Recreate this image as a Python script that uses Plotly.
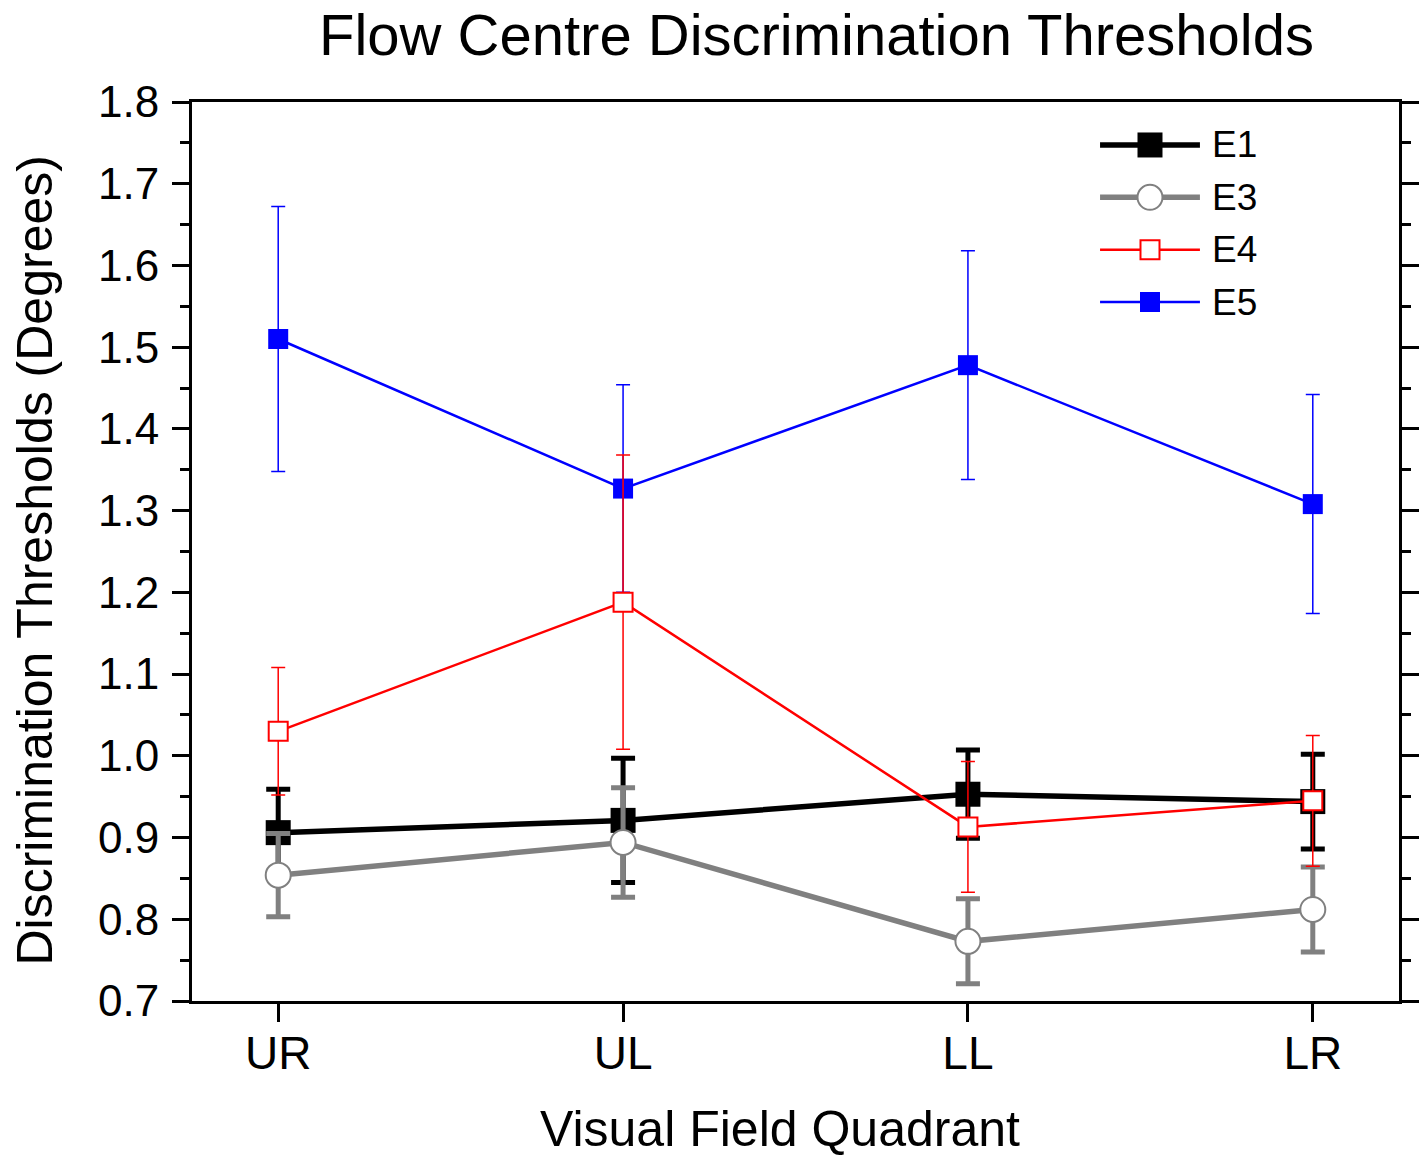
import plotly.graph_objects as go

quadrants = ["UR", "UL", "LL", "LR"]

e1 = [0.906, 0.921, 0.953, 0.944]
e1_err = [0.053, 0.076, 0.054, 0.058]
e3 = [0.854, 0.894, 0.773, 0.812]
e3_err = [0.051, 0.067, 0.052, 0.052]
e4 = [1.030, 1.188, 0.913, 0.945]
e4_err = [0.078, 0.180, 0.080, 0.080]
e5 = [1.510, 1.327, 1.478, 1.308]
e5_err = [0.162, 0.127, 0.140, 0.134]

series_names = ["E1", "E3", "E4", "E5"]

FONT = "Arial, Liberation Sans, sans-serif"

styles = {
    "E1": dict(line=dict(color="black", width=5.5),
               marker=dict(symbol="square", size=25, color="black"),
               err=dict(color="black", thickness=5, width=12)),
    "E3": dict(line=dict(color="#808080", width=5.5),
               marker=dict(symbol="circle", size=25, color="white", line=dict(color="#808080", width=2)),
               err=dict(color="#808080", thickness=5, width=12)),
    "E4": dict(line=dict(color="#ff0000", width=2.5),
               marker=dict(symbol="square", size=19, color="white", line=dict(color="#ff0000", width=2)),
               err=dict(color="#ff0000", thickness=1.5, width=7)),
    "E5": dict(line=dict(color="#0000ff", width=2.5),
               marker=dict(symbol="square", size=20, color="#0000ff"),
               err=dict(color="#0000ff", thickness=1.5, width=7)),
}
data = {"E1": (e1, e1_err), "E3": (e3, e3_err), "E4": (e4, e4_err), "E5": (e5, e5_err)}

fig = go.Figure()

# drawing order: E1, E3, E5, E4 (red drawn on top)
for name in ["E1", "E3", "E5", "E4"]:
    vals, errs = data[name]
    st = styles[name]
    fig.add_trace(go.Scatter(
        x=quadrants, y=vals, name=name, mode="lines+markers", showlegend=False,
        line=st["line"], marker=st["marker"],
        error_y=dict(type="data", array=errs, **st["err"]),
    ))

# custom legend drawn on an overlay axis (long sample lines like the original)
LEG_TOP, LEG_BOT = 0.9522, 0.7775
ROW = (LEG_TOP - LEG_BOT) / 3
for i, name in enumerate(series_names):
    st = styles[name]
    fig.add_trace(go.Scatter(
        x=[0, 1], y=[i, i], mode="lines", line=st["line"], showlegend=False,
        xaxis="x2", yaxis="y2", hoverinfo="skip", cliponaxis=False,
    ))
    fig.add_trace(go.Scatter(
        x=[0.5], y=[i], mode="markers", marker=st["marker"], showlegend=False,
        xaxis="x2", yaxis="y2", hoverinfo="skip", cliponaxis=False,
    ))

legend_annotations = [
    dict(text=name, xref="paper", yref="paper", x=0.843,
         y=LEG_TOP - i * ROW, xanchor="left", yanchor="middle",
         showarrow=False, font=dict(size=37, family=FONT))
    for i, name in enumerate(series_names)
]

fig.update_layout(
    width=1422, height=1156,
    margin=dict(l=192, r=23, t=102, b=155, autoexpand=False),
    paper_bgcolor="white", plot_bgcolor="white",
    font=dict(family=FONT, color="black"),
    showlegend=False,
    xaxis=dict(
        range=[-0.25, 3.25], showgrid=False, zeroline=False,
        showline=True, linecolor="black", linewidth=3, mirror=True,
        ticks="outside", ticklen=18, tickwidth=3, tickcolor="black",
        tickfont=dict(size=46, family=FONT), ticklabelstandoff=-8,
    ),
    yaxis=dict(
        range=[0.7, 1.8], dtick=0.1, tickformat=".1f", showgrid=False, zeroline=False,
        showline=True, linecolor="black", linewidth=3, mirror="ticks",
        ticks="outside", ticklen=17, tickwidth=3, tickcolor="black",
        tickfont=dict(size=44, family=FONT), ticklabelstandoff=4,
        minor=dict(dtick=0.05, ticks="outside", ticklen=9, tickwidth=3, tickcolor="black", showgrid=False),
    ),
    xaxis2=dict(domain=[0.7523, 0.8351], range=[0, 1], visible=False, anchor="y2", fixedrange=True),
    yaxis2=dict(domain=[LEG_BOT - 0.5 * ROW, LEG_TOP + 0.5 * ROW], range=[3.5, -0.5],
                visible=False, anchor="x2", fixedrange=True),
    annotations=[
        dict(text="Flow Centre Discrimination Thresholds", xref="paper", yref="paper",
             x=0.517, y=1.075, xanchor="center", yanchor="middle", showarrow=False,
             font=dict(size=58, family=FONT)),
        dict(text="Visual Field Quadrant", xref="paper", yref="paper",
             x=0.487, y=-0.142, xanchor="center", yanchor="middle", showarrow=False,
             font=dict(size=50, family=FONT)),
        dict(text="Discrimination Thresholds (Degrees)", xref="paper", yref="paper",
             x=-0.130, y=0.49, xanchor="center", yanchor="middle", showarrow=False,
             textangle=-90, font=dict(size=50, family=FONT)),
    ] + legend_annotations,
)

fig.write_html("out.html", config={"displayModeBar": False},
               post_script="document.body.style.margin='0';")
